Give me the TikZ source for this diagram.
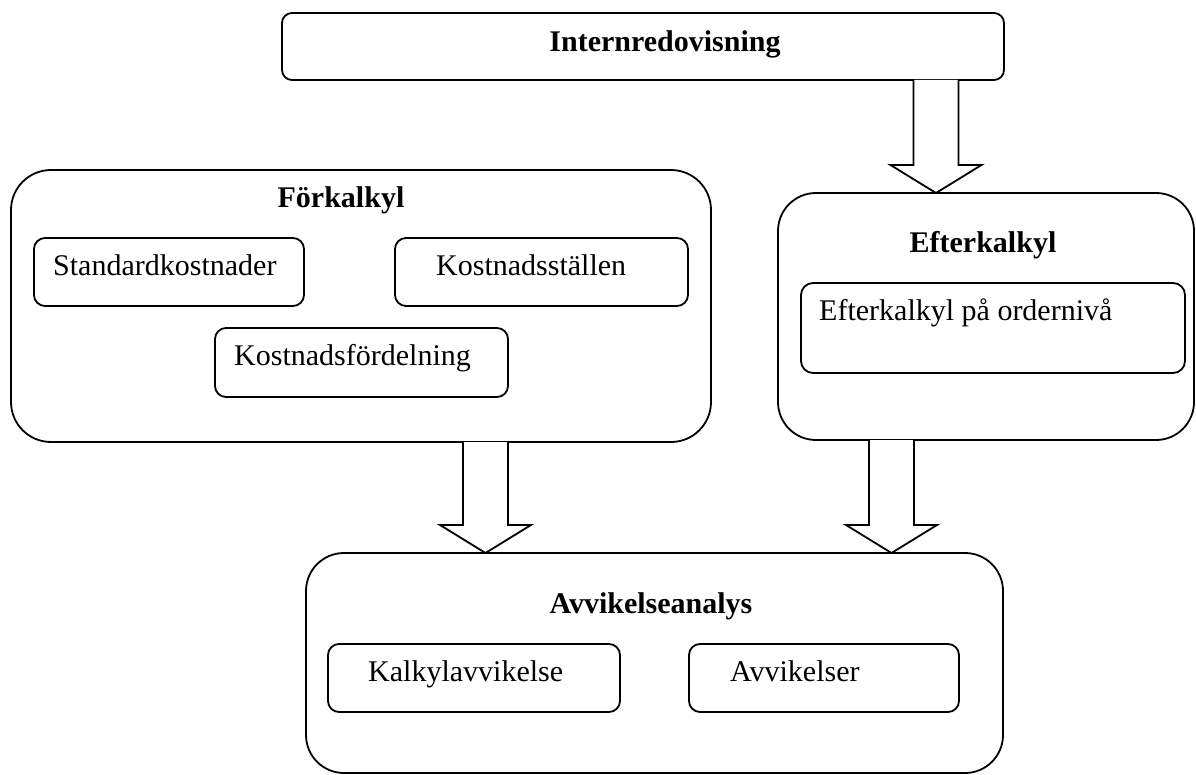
\documentclass[tikz,border=0pt]{standalone}
\usepackage{fontspec}
\setmainfont{Liberation Serif}
\usetikzlibrary{calc}
\begin{document}
\begin{tikzpicture}[x=1pt,y=-1pt,
  box/.style={draw=black,line width=1.8pt,fill=none,inner sep=0pt,outer sep=0pt,rounded corners=#1},
  box/.default=10pt,
  lbl/.style={inner sep=0pt,font=\fontsize{30}{36}\selectfont},
  hdr/.style={inner sep=0pt,font=\fontsize{30}{36}\selectfont\bfseries,anchor=base},
  barrow/.style={draw=black,line width=1.8pt,line join=miter,fill=white}]
\useasboundingbox (0,0) rectangle (1196,775);

% outer boxes
\node[box=10pt,minimum width=722pt,minimum height=67pt] (top) at (643,46.5) {};
\node[box=40pt,minimum width=700pt,minimum height=272pt] (fork) at (361,306) {};
\node[box=38pt,minimum width=416pt,minimum height=247pt] (efter) at (986,316.5) {};
\node[box=38pt,minimum width=697pt,minimum height=220pt] (avv) at (654.5,663) {};

% inner boxes
\node[box=11pt,minimum width=270pt,minimum height=68pt] (std) at (169,272) {};
\node[box=11pt,minimum width=293pt,minimum height=68pt] (kst) at (541.5,272) {};
\node[box=11pt,minimum width=293pt,minimum height=69pt] (kfd) at (361.5,362.5) {};
\node[box=12pt,minimum width=384pt,minimum height=90pt] (eon) at (993,328) {};
\node[box=11pt,minimum width=292pt,minimum height=68pt] (kav) at (474,678) {};
\node[box=11pt,minimum width=270pt,minimum height=68pt] (avs) at (824,678) {};

% headings
\node[hdr] (tTop) at (665,52) {Internredovisning};
\node[hdr] (tFork) at (341,208) {Förkalkyl};
\node[hdr] (tEfter) at (983,253) {Efterkalkyl};
\node[hdr] (tAvv) at (651,613) {Avvikelseanalys};

% inner texts
\node[lbl,anchor=base west] (tStd) at (53,276) {Standardkostnader};
\node[lbl,anchor=base west] (tKst) at (436,276) {Kostnadsställen};
\node[lbl,anchor=base west] (tKfd) at (234,365) {Kostnadsfördelning};
\node[lbl,anchor=base west] (tEon) at (819,321) {Efterkalkyl på ordernivå};
\node[lbl,anchor=base west] (tKav) at (368,681) {Kalkylavvikelse};
\node[lbl,anchor=base west] (tAvs) at (730,681) {Avvikelser};

% block arrows
\coordinate (ax1) at (936,0);
\coordinate (ax2) at (485.5,0);
\coordinate (ax3) at (891.5,0);
\newcommand\blockarrow[3]{%
  \draw[barrow] ([xshift=-22.5pt]#1 |- #2) -- ([xshift=-22.5pt,yshift=28pt]#1 |- #3)
    -- ([xshift=-45.5pt,yshift=28pt]#1 |- #3) -- (#1 |- #3)
    -- ([xshift=45.5pt,yshift=28pt]#1 |- #3) -- ([xshift=22.5pt,yshift=28pt]#1 |- #3)
    -- ([xshift=22.5pt]#1 |- #2);}
\blockarrow{ax1}{top.south}{efter.north}
\blockarrow{ax2}{fork.south}{avv.north}
\blockarrow{ax3}{efter.south}{avv.north}
\end{tikzpicture}
\end{document}
